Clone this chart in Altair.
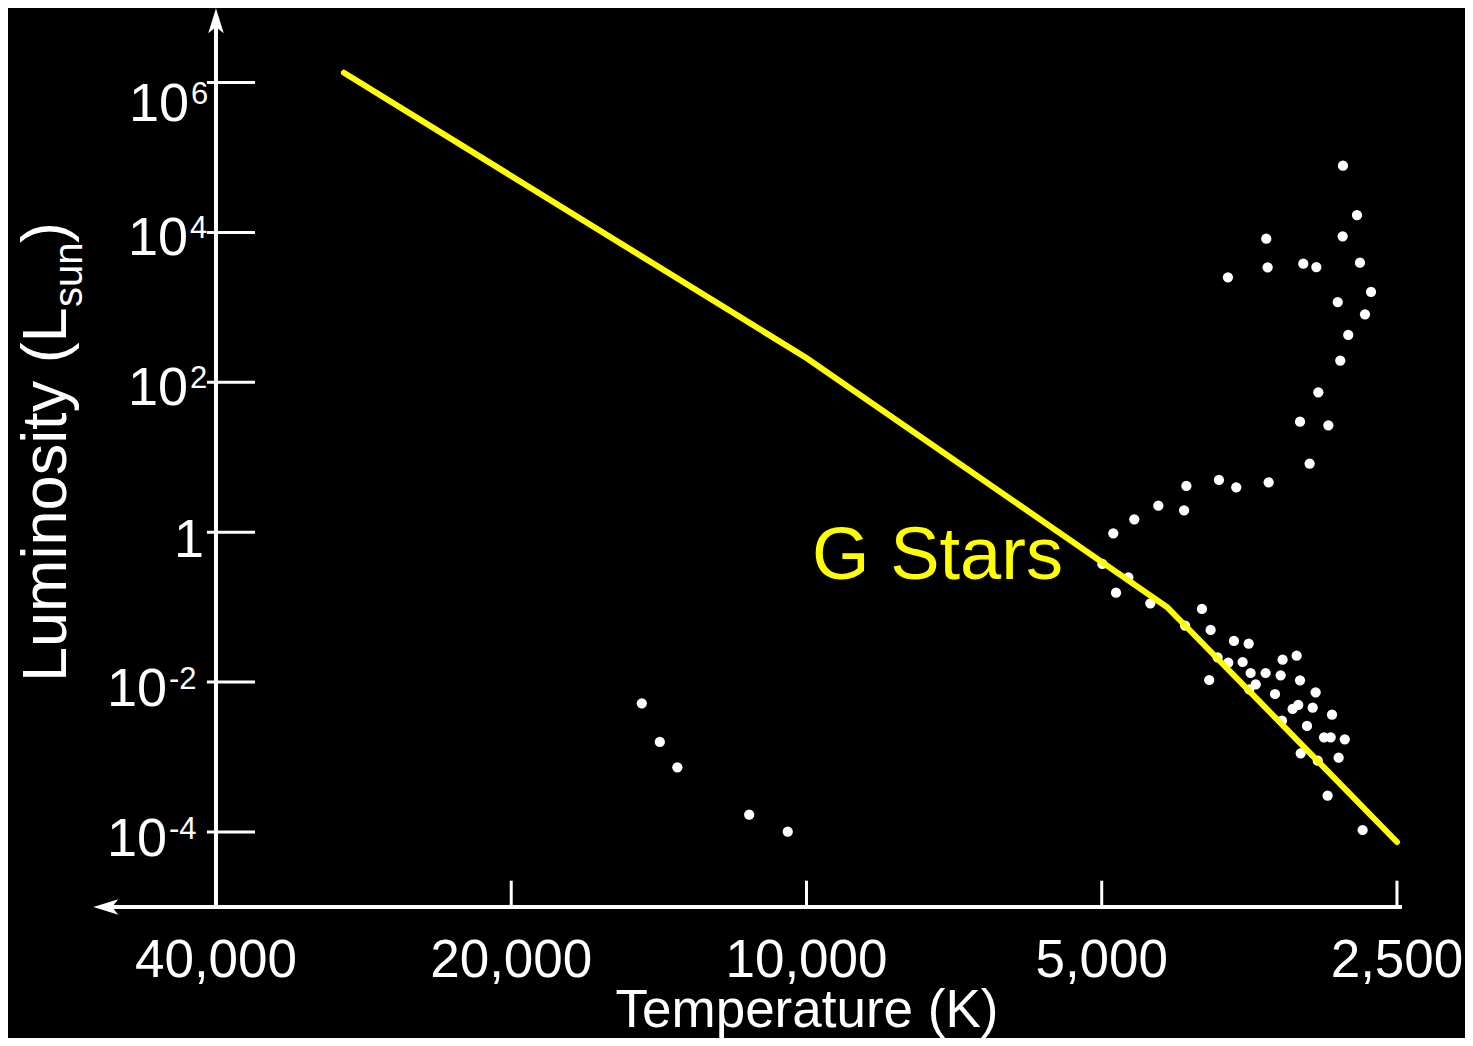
import altair as alt
import pandas as pd

# ---------------- data ----------------
# Stars (temperature in K, luminosity in L_sun)
star_temp = [2838, 2746, 3398, 2840, 3387, 3115, 3021, 2727, 3718, 2657,
             2873, 2695, 2803, 2856, 3007, 3139, 2937, 3069, 3797, 3646,
             3379, 4099, 4378, 4121, 4632, 4866,
             4993, 4697, 4835, 4461, 3952, 4111, 3872, 3666, 3541, 3809,
             3715, 3592, 3270, 3164, 3525, 3403, 3285, 3885, 3483, 3536,
             3139, 3329, 3026, 3194, 3152, 3047, 2912, 3088, 3275, 2967,
             2921, 2826, 3134, 3011, 2867, 2942, 2710,
             14720, 14110, 13540, 11440, 10450]
star_lum = [7.78e4, 1.71e4, 8.26e3, 8.89e3, 3.43e3, 3.83e3, 3.46e3, 3.95e3, 2.52e3, 1.61e3,
            1.18e3, 809, 429, 195, 73.7, 29.9, 26.7, 8.21, 4.98, 3.98,
            4.64, 4.14, 2.26, 1.96, 1.49, 0.968,
            0.377, 0.2505, 0.156, 0.1126, 0.0946, 0.0566, 0.0496, 0.0354, 0.0326, 0.02144,
            0.01816, 0.01855, 0.01991, 0.02253, 0.01323, 0.01323, 0.01233, 0.01067, 0.00935, 0.00802,
            0.01057, 0.00694, 0.00731, 0.00438, 0.00495, 0.00456, 0.00367, 0.00260, 0.00306, 0.001835,
            0.001835, 0.001726, 0.001122, 0.000894, 0.000981, 0.000305, 0.0001063,
            0.00522, 0.001589, 0.00073, 0.00017, 0.000101]

# Yellow main-sequence guide line
ms_temp = [29620, 10000, 4290, 2500]
ms_lum = [1.356e6, 211, 0.1006, 7.35e-5]

# Annotation
note_text = ["G Stars"]
note_temp = [9870]
note_lum = [0.238]

# Ticks and labels
x_ticks = [40000, 20000, 10000, 5000, 2500]
x_tick_labels = ["40,000", "20,000", "10,000", "5,000", "2,500"]
y_ticks = [1e6, 1e4, 1e2, 1, 1e-2, 1e-4]
y_tick_base = ["10", "10", "10", "1", "10", "10"]
y_tick_exp = ["6", "4", "2", "", "-2", "-4"]

x_title = ["Temperature (K)"]
y_title_parts = ["Luminosity (L", "sun", ")"]

# ---------------- layout constants ----------------
T_DOMAIN = [2131, 65180]
L_DOMAIN = [1.782e-7, 9.897e6]
AXIS_T = 40000          # temperature where the luminosity axis stands
AXIS_L = 1e-5           # luminosity where the temperature axis lies
X_AXIS_SPAN = [51070, 2471]
X_ARROW_T = 53350
Y_AXIS_TOP = 5.52e6
Y_ARROW_L = 9.81e6
Y_TICK_SPAN = [40860, 36500]
X_TICK_TOP = 2.24e-5

FONT = "Liberation Sans, Arial, sans-serif"
YELLOW = "#ffff00"

xs = alt.Scale(type="log", domain=T_DOMAIN, reverse=True, nice=False)
ys = alt.Scale(type="log", domain=L_DOMAIN, nice=False)


def X(field="T"):
    return alt.X(f"{field}:Q", scale=xs, axis=None)


def Y(field="L"):
    return alt.Y(f"{field}:Q", scale=ys, axis=None)


stars = pd.DataFrame({"T": star_temp, "L": star_lum})
ms = pd.DataFrame({"T": ms_temp, "L": ms_lum})
note = pd.DataFrame({"T": note_temp, "L": note_lum, "txt": note_text})
xlab = pd.DataFrame({"T": x_ticks, "txt": x_tick_labels})
ylab = pd.DataFrame({"L": y_ticks, "base": y_tick_base, "exp": y_tick_exp})

star_layer = alt.Chart(stars).mark_circle(size=105, color="white", opacity=1).encode(
    x=X(), y=Y(),
)

line_layer = alt.Chart(ms).mark_line(color=YELLOW, strokeWidth=6, strokeCap="round").encode(
    x=X(), y=Y(),
)

note_layer = alt.Chart(note).mark_text(
    color=YELLOW, font=FONT, fontSize=74, align="left", baseline="alphabetic"
).encode(x=X(), y=Y(), text="txt:N")

x_line = alt.Chart(pd.DataFrame({"T": [X_AXIS_SPAN[0]], "T2": [X_AXIS_SPAN[1]], "L": [AXIS_L]})).mark_rule(
    color="white", strokeWidth=4
).encode(x=X(), x2="T2:Q", y=Y())

y_line = alt.Chart(pd.DataFrame({"T": [AXIS_T], "L": [AXIS_L], "L2": [Y_AXIS_TOP]})).mark_rule(
    color="white", strokeWidth=4
).encode(x=X(), y=Y(), y2="L2:Q")

x_tick_layer = alt.Chart(pd.DataFrame({"T": x_ticks, "L": [AXIS_L] * len(x_ticks),
                                       "L2": [X_TICK_TOP] * len(x_ticks)})).mark_rule(
    color="white", strokeWidth=3
).encode(x=X(), y=Y(), y2="L2:Q")

y_tick_layer = alt.Chart(pd.DataFrame({"T": [Y_TICK_SPAN[0]] * len(y_ticks),
                                       "T2": [Y_TICK_SPAN[1]] * len(y_ticks),
                                       "L": y_ticks})).mark_rule(
    color="white", strokeWidth=3
).encode(x=X(), x2="T2:Q", y=Y())

up_arrow = alt.Chart(pd.DataFrame({"T": [AXIS_T], "L": [Y_ARROW_L]})).mark_point(
    shape="M0,0 L0.31,1 L0,0.75 L-0.31,1 Z", size=2500, filled=True,
    color="white", opacity=1, strokeWidth=0
).encode(x=X(), y=Y())

left_arrow = alt.Chart(pd.DataFrame({"T": [X_ARROW_T], "L": [AXIS_L]})).mark_point(
    shape="M0,0 L1,-0.31 L0.75,0 L1,0.31 Z", size=2500, filled=True,
    color="white", opacity=1, strokeWidth=0
).encode(x=X(), y=Y())

# x tick labels
x_label_layer = alt.Chart(xlab).mark_text(
    color="white", font=FONT, fontSize=53, align="center", baseline="alphabetic"
).encode(x=X(), y=alt.value(969), text="txt:N")


# y tick labels: "10" plus a raised exponent
def ylabel(test, field, xpx, align, size, dy):
    return alt.Chart(ylab).transform_filter(test).mark_text(
        color="white", font=FONT, fontSize=size, align=align, baseline="alphabetic", dy=dy
    ).encode(x=alt.value(xpx), y=Y(), text=f"{field}:N")


y_label_layers = [
    ylabel("datum.L > 100000", "base", 181, "right", 54, 38),
    ylabel("datum.L > 1.5 && datum.L < 100000", "base", 180, "right", 54, 23),
    ylabel("datum.L == 1", "base", 196, "right", 54, 25),
    ylabel("datum.L < 0.5", "base", 159, "right", 54, 24),
    ylabel("datum.L > 100000", "exp", 183, "left", 31, 21),
    ylabel("datum.L > 1.5 && datum.L < 100000", "exp", 182, "left", 31, 6),
    ylabel("datum.L < 0.5", "exp", 161, "left", 31, 7),
]

# axis titles
x_title_layer = alt.Chart(pd.DataFrame({"txt": x_title})).mark_text(
    color="white", font=FONT, fontSize=53, align="center", baseline="alphabetic"
).encode(x=alt.value(799), y=alt.value(1019), text="txt:N")

y_title_main = alt.Chart(pd.DataFrame({"txt": [y_title_parts[0]]})).mark_text(
    color="white", font=FONT, fontSize=63, align="left", baseline="alphabetic", angle=270
).encode(x=alt.value(58), y=alt.value(674), text="txt:N")

y_title_sub = alt.Chart(pd.DataFrame({"txt": [y_title_parts[1]]})).mark_text(
    color="white", font=FONT, fontSize=40, align="left", baseline="alphabetic", angle=270
).encode(x=alt.value(74), y=alt.value(299), text="txt:N")

y_title_end = alt.Chart(pd.DataFrame({"txt": [y_title_parts[2]]})).mark_text(
    color="white", font=FONT, fontSize=63, align="left", baseline="alphabetic", angle=270
).encode(x=alt.value(58), y=alt.value(235), text="txt:N")

chart = alt.layer(
    x_line, y_line, x_tick_layer, y_tick_layer, up_arrow, left_arrow,
    x_label_layer, *y_label_layers,
    x_title_layer, y_title_main, y_title_sub, y_title_end,
    star_layer, line_layer, note_layer,
).properties(
    width=1457, height=1030, background="black", padding=0,
    autosize=alt.AutoSizeParams(type="none"),
).configure_view(stroke=None)

chart.save("out.html", embed_options={"renderer": "svg", "actions": False})
